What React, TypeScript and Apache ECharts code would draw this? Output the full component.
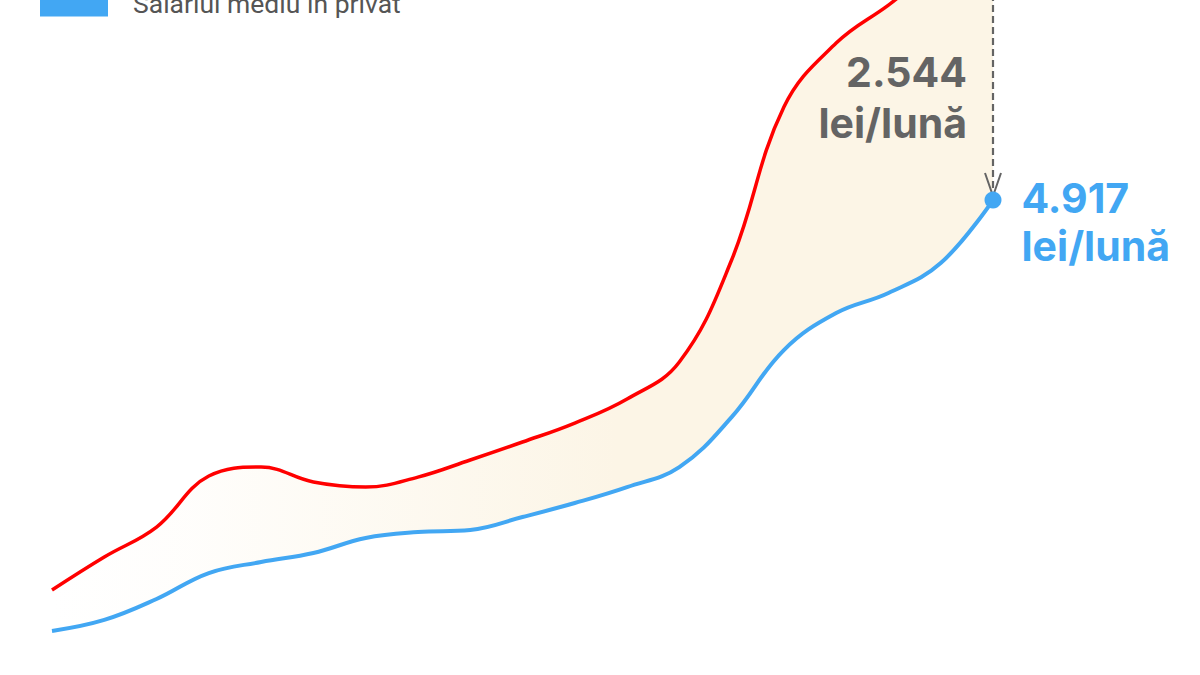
import React, { useEffect, useRef } from "react";
import * as echarts from "echarts";

const years = ["2005", "2006", "2007", "2008", "2009", "2010", "2011", "2012", "2013", "2014", "2015", "2016", "2017", "2018", "2019", "2020", "2021", "2022", "2023"];
const publicSalary = [1101, 1424, 1717, 2216, 2304, 2158, 2109, 2206, 2373, 2549, 2735, 2970, 3332, 4330, 5827, 6453, 6825, 7216, 7461];
const privateSalary = [700, 808, 1013, 1267, 1375, 1463, 1610, 1668, 1688, 1815, 1952, 2108, 2304, 2793, 3449, 3811, 4007, 4300, 4917];
const seriesNames = ["Salariul mediu la stat", "Salariul mediu în privat"];
const unitLabel = "lei/lună";

const RED = "#ff0000";
const BLUE = "#42a7f3";
const GRAY = "#646464";
const SHIFT = 200;

const fmt = (n: number) => String(n).replace(/\B(?=(\d{3})+(?!\d))/g, ".");

export default function App() {
  const ref = useRef<HTMLDivElement>(null);
  useEffect(() => {
    document.body.style.margin = "0";
    const chart = echarts.init(ref.current!, null, { renderer: "svg" });
    const last = years.length - 1;
    const gap = publicSalary.map((v, i) => v - privateSalary[i]);
    const endLabel = (color: string, dy: number) => ({
      show: true,
      position: "right",
      distance: 20,
      offset: [0, dy],
      align: "left",
      formatter: (p: any) => `{v|${fmt(p.value)}}\n{u|${unitLabel}}`,
      rich: {
        v: { fontFamily: "Inter", fontWeight: 700, fontSize: 41, color, lineHeight: 48 },
        u: { fontFamily: "Inter", fontWeight: 700, fontSize: 41, color, lineHeight: 48 },
      },
    });
    const option: any = {
      animation: false,
      backgroundColor: "#ffffff",
      grid: { left: 52, right: 207, top: 85, bottom: 72.5 },
      legend: {
        show: true,
        orient: "vertical",
        left: 40,
        top: 143,
        padding: 0,
        itemWidth: 68,
        itemHeight: 26,
        itemGap: 20,
        icon: "rect",
        data: seriesNames,
        formatter: (name: string) => `{t|${name}}`,
        textStyle: {
          rich: { t: { fontFamily: "Roboto", fontSize: 26.5, color: "#555555", padding: [0, 0, 0, 20] } },
        },
      },
      xAxis: { type: "category", data: years, boundaryGap: false, show: false },
      yAxis: { type: "value", min: 0, max: 8000, show: false, splitLine: { show: false } },
      series: [
        {
          name: "base",
          type: "line",
          data: privateSalary,
          stack: "band",
          smooth: 0.4,
          symbol: "none",
          silent: true,
          lineStyle: { opacity: 0 },
          z: 1,
        },
        {
          name: "gap",
          type: "line",
          data: gap,
          stack: "band",
          smooth: 0.4,
          symbol: "none",
          silent: true,
          lineStyle: { opacity: 0 },
          areaStyle: {
            opacity: 1,
            color: new echarts.graphic.LinearGradient(0, 0, 1, 0, [
              { offset: 0, color: "rgba(252,245,230,0)" },
              { offset: 0.15, color: "rgba(252,245,230,0.15)" },
              { offset: 0.6, color: "rgba(252,245,230,1)" },
              { offset: 1, color: "rgba(252,245,230,1)" },
            ]),
          },
          z: 1,
        },
        {
          name: seriesNames[0],
          type: "line",
          data: publicSalary,
          smooth: 0.4,
          symbol: "none",
          color: RED,
          lineStyle: { color: RED, width: 3.5 },
          markPoint: {
            symbol: "circle",
            symbolSize: 17,
            itemStyle: { color: RED },
            data: [{ coord: [last, publicSalary[last]], value: publicSalary[last], label: endLabel(RED, 16) }],
          },
          z: 4,
        },
        {
          name: seriesNames[1],
          type: "line",
          data: privateSalary,
          smooth: 0.4,
          symbol: "none",
          color: BLUE,
          lineStyle: { color: BLUE, width: 4 },
          markPoint: {
            symbol: "circle",
            symbolSize: 17,
            itemStyle: { color: BLUE },
            data: [{ coord: [last, privateSalary[last]], value: privateSalary[last], label: endLabel(BLUE, 22) }],
          },
          z: 4,
        },
      ],
    };
    chart.setOption(option);
    const pTop = chart.convertToPixel({ gridIndex: 0 }, [last, publicSalary[last]]) as number[];
    const pBot = chart.convertToPixel({ gridIndex: 0 }, [last, privateSalary[last]]) as number[];
    const x = Math.round(pBot[0]);
    const mid = (pTop[1] + pBot[1]) / 2;
    chart.setOption({
      graphic: [
        {
          type: "line",
          z: 3,
          shape: { x1: x, y1: pTop[1] + 10, x2: x, y2: pBot[1] - 6 },
          style: { stroke: GRAY, lineWidth: 2.2, lineDash: [7, 4] },
        },
        {
          type: "polyline",
          z: 3,
          shape: { points: [[x - 8, pBot[1] - 27], [x, pBot[1] - 4], [x + 8, pBot[1] - 27]] },
          style: { stroke: GRAY, lineWidth: 2, fill: "none" },
        },
        {
          type: "text",
          z: 6,
          x: x - 26,
          y: mid + 2,
          style: {
            text: fmt(gap[last]),
            fill: GRAY,
            fontFamily: "Inter",
            fontWeight: 700,
            fontSize: 41,
            textAlign: "right",
            textVerticalAlign: "middle",
          },
        },
        {
          type: "text",
          z: 6,
          x: x - 26,
          y: mid + 53,
          style: {
            text: unitLabel,
            fill: GRAY,
            fontFamily: "Inter",
            fontWeight: 700,
            fontSize: 41,
            textAlign: "right",
            textVerticalAlign: "middle",
          },
        },
      ],
    });
    return () => chart.dispose();
  }, []);
  return (
    <div style={{ position: "fixed", left: 0, top: 0, width: 1200, height: 675, overflow: "hidden", background: "#fff" }}>
      <div ref={ref} style={{ position: "absolute", left: 0, top: -SHIFT, width: 1200, height: 975 }} />
    </div>
  );
}
